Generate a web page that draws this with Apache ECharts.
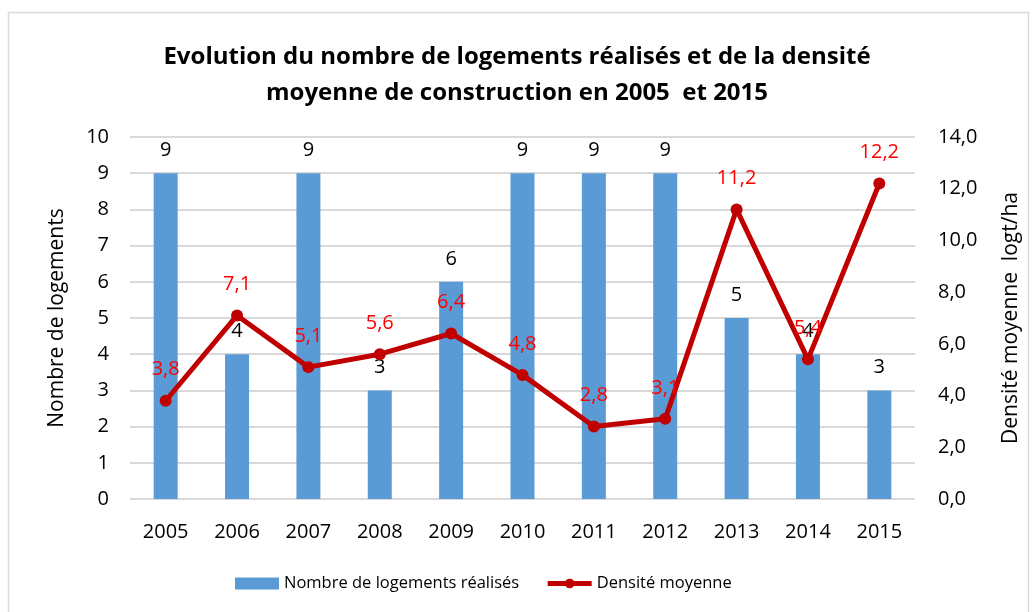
<!DOCTYPE html>
<html>
<head>
<meta charset="utf-8">
<script src="https://cdn.jsdelivr.net/npm/echarts@6/dist/echarts.min.js"></script>
<style>
  html, body { margin: 0; padding: 0; background: #fff; }
  #chart { width: 1034px; height: 612px; }
</style>
</head>
<body>
<div id="chart"></div>
<script>
// Années
const years = ['2005', '2006', '2007', '2008', '2009', '2010', '2011', '2012', '2013', '2014', '2015'];
// Nombre de logements réalisés
const logements = [9, 4, 9, 3, 6, 9, 9, 9, 5, 4, 3];
// Densité moyenne (logt/ha)
const densite = [3.8, 7.1, 5.1, 5.6, 6.4, 4.8, 2.8, 3.1, 11.2, 5.4, 12.2];

const FONT = '"Open Sans", sans-serif';
const frDec = v => v.toFixed(1).replace('.', ',');

const chart = echarts.init(document.getElementById('chart'));
chart.setOption({
  backgroundColor: '#ffffff',
  animation: false,
  textStyle: { fontFamily: FONT },
  graphic: [{
    type: 'rect',
    shape: { x: 8.5, y: 12.5, width: 1020, height: 610 },
    style: { fill: 'none', stroke: '#d9d9d9', lineWidth: 1.5 },
    silent: true
  }],
  title: {
    text: 'Evolution du nombre de logements réalisés et de la densité\nmoyenne de construction en 2005  et 2015',
    left: 'center',
    top: 34,
    textStyle: {
      fontFamily: FONT,
      fontWeight: 'bold',
      fontSize: 24,
      lineHeight: 36,
      color: '#000'
    }
  },
  legend: {
    bottom: 15,
    left: 230,
    itemGap: 26,
    itemWidth: 44,
    itemHeight: 12,
    textStyle: { fontFamily: FONT, fontSize: 16.5, color: '#000' },
    data: [
      { name: 'Nombre de logements réalisés', icon: 'rect' },
      { name: 'Densité moyenne', lineStyle: { width: 5, color: '#c00000' } }
    ]
  },
  grid: { left: 130, right: 119, top: 137, bottom: 113 },
  xAxis: {
    type: 'category',
    data: years,
    axisLine: { show: false },
    axisTick: { show: false },
    axisLabel: { fontFamily: FONT, fontSize: 20, color: '#000', margin: 23 }
  },
  yAxis: [{
    type: 'value',
    min: 0, max: 10, interval: 1,
    name: 'Nombre de logements',
    nameLocation: 'middle',
    nameGap: 62,
    nameTextStyle: { fontFamily: FONT, fontSize: 21, color: '#000' },
    axisLine: { show: false },
    axisTick: { show: false },
    axisLabel: { fontFamily: FONT, fontSize: 20, color: '#000', margin: 21 },
    splitLine: { lineStyle: { color: '#d9d9d9', width: 2 } }
  }, {
    type: 'value',
    min: 0, max: 14, interval: 2,
    name: 'Densité moyenne  logt/ha',
    nameLocation: 'middle',
    nameGap: 86,
    nameRotate: 90,
    nameTextStyle: { fontFamily: FONT, fontSize: 21, color: '#000' },
    axisLine: { show: false },
    axisTick: { show: false },
    axisLabel: { fontFamily: FONT, fontSize: 20, color: '#000', margin: 23, formatter: v => frDec(v) },
    splitLine: { show: false }
  }],
  series: [{
    name: 'Nombre de logements réalisés',
    type: 'bar',
    data: logements,
    barWidth: 24,
    itemStyle: { color: '#5b9bd5' },
    label: {
      show: true, position: 'top', distance: 13,
      fontFamily: FONT, fontSize: 20, color: '#000'
    }
  }, {
    name: 'Densité moyenne',
    type: 'line',
    yAxisIndex: 1,
    data: densite,
    symbol: 'circle',
    symbolSize: 12,
    lineStyle: { color: '#c00000', width: 5 },
    itemStyle: { color: '#c00000' },
    label: {
      show: true, position: 'top', distance: 15,
      fontFamily: FONT, fontSize: 20, color: '#ff0000',
      formatter: p => frDec(p.value)
    },
    z: 3
  }]
});
</script>
</body>
</html>
